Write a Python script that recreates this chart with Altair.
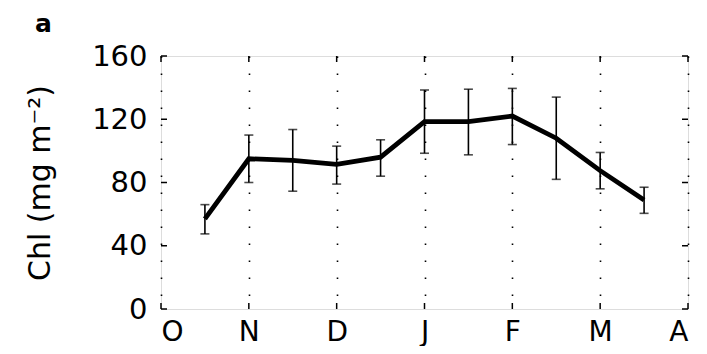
import altair as alt
import pandas as pd

# ---- data ----
month_labels = ["O", "N", "D", "J", "F", "M", "A"]
month_pos = [0, 1, 2, 3, 4, 5, 6]
x_months = [0.5, 1, 1.5, 2, 2.5, 3, 3.5, 4, 4.5, 5, 5.5]
chl = [57, 95, 94, 91.5, 96, 118.5, 118.5, 122, 108, 87.5, 69]
err_hi = [66, 110, 113.5, 103, 107, 138.5, 139, 139.5, 134, 99, 77]
err_lo = [47.5, 80, 74.5, 79, 84, 98.5, 97.5, 104, 82, 76, 60.5]
y_ticks = [0, 40, 80, 120, 160]
panel_label = ["a"]

W, H = 527, 253
FONT = "DejaVu Sans"

df = pd.DataFrame({"x": x_months, "chl": chl, "hi": err_hi, "lo": err_lo})
mdf = pd.DataFrame({"m": month_pos, "lab": month_labels})
ydf = pd.DataFrame({"v": y_ticks})
adf = pd.DataFrame({"t": panel_label})

label_arr = "[" + ",".join("'%s'" % s for s in month_labels) + "]"

xscale = alt.Scale(domain=[0, 6], nice=False, zero=False)
yscale = alt.Scale(domain=[0, 160], nice=False)

x_axis = alt.Axis(values=month_pos, labelExpr=label_arr + "[datum.value]",
                  grid=True, gridDash=[1.5, 15.5], gridWidth=1.6, gridColor="black",
                  ticks=False, domain=False, labelFont=FONT, labelFontSize=28,
                  labelColor="black", labelPadding=9, title=None)
y_axis = alt.Axis(values=y_ticks, grid=False, ticks=False, domain=False,
                  labelFont=FONT, labelFontSize=29, labelColor="black",
                  labelPadding=14, title="Chl (mg m⁻²)", titleFont=FONT,
                  titleFontSize=30, titleFontWeight="normal", titleColor="black",
                  titleX=-112, titleY=H / 2, titleAngle=270,
                  titleBaseline="alphabetic", titleAlign="center")

base = alt.Chart(df)

line = base.mark_line(color="black", strokeWidth=4.8).encode(
    x=alt.X("x:Q", scale=xscale, axis=x_axis),
    y=alt.Y("chl:Q", scale=yscale, axis=y_axis),
)

err = base.mark_rule(color="black", strokeWidth=1.6).encode(
    x="x:Q", y="lo:Q", y2="hi:Q")
cap_hi = base.mark_tick(color="black", orient="horizontal", size=9, thickness=1.6).encode(
    x="x:Q", y="hi:Q")
cap_lo = base.mark_tick(color="black", orient="horizontal", size=9, thickness=1.6).encode(
    x="x:Q", y="lo:Q")

ytick_l = alt.Chart(ydf).mark_rule(color="black", strokeWidth=1.5).encode(
    y="v:Q", x=alt.value(0), x2=alt.value(6))
ytick_r = alt.Chart(ydf).mark_rule(color="black", strokeWidth=1.5).encode(
    y="v:Q", x=alt.value(W - 6), x2=alt.value(W))
xtick_b = alt.Chart(mdf).mark_rule(color="black", strokeWidth=1.5).encode(
    x="m:Q", y=alt.value(H - 6), y2=alt.value(H))
xtick_t = alt.Chart(mdf).mark_rule(color="black", strokeWidth=1.5).encode(
    x="m:Q", y=alt.value(0), y2=alt.value(6))

letter = alt.Chart(adf).mark_text(font=FONT, fontSize=25, fontWeight="bold",
                                  align="left", baseline="alphabetic",
                                  color="black").encode(
    text="t:N", x=alt.value(-126), y=alt.value(-24))

chart = alt.layer(line, err, cap_hi, cap_lo, ytick_l, ytick_r, xtick_b, xtick_t,
                  letter).properties(
    width=W, height=H,
    autosize=alt.AutoSizeParams(type="none"),
    padding={"left": 153, "top": 48, "right": 11, "bottom": 37},
).configure_view(stroke="black", strokeWidth=3).configure(background="white")

chart.save("out.html", embed_options={"renderer": "svg", "actions": False})
